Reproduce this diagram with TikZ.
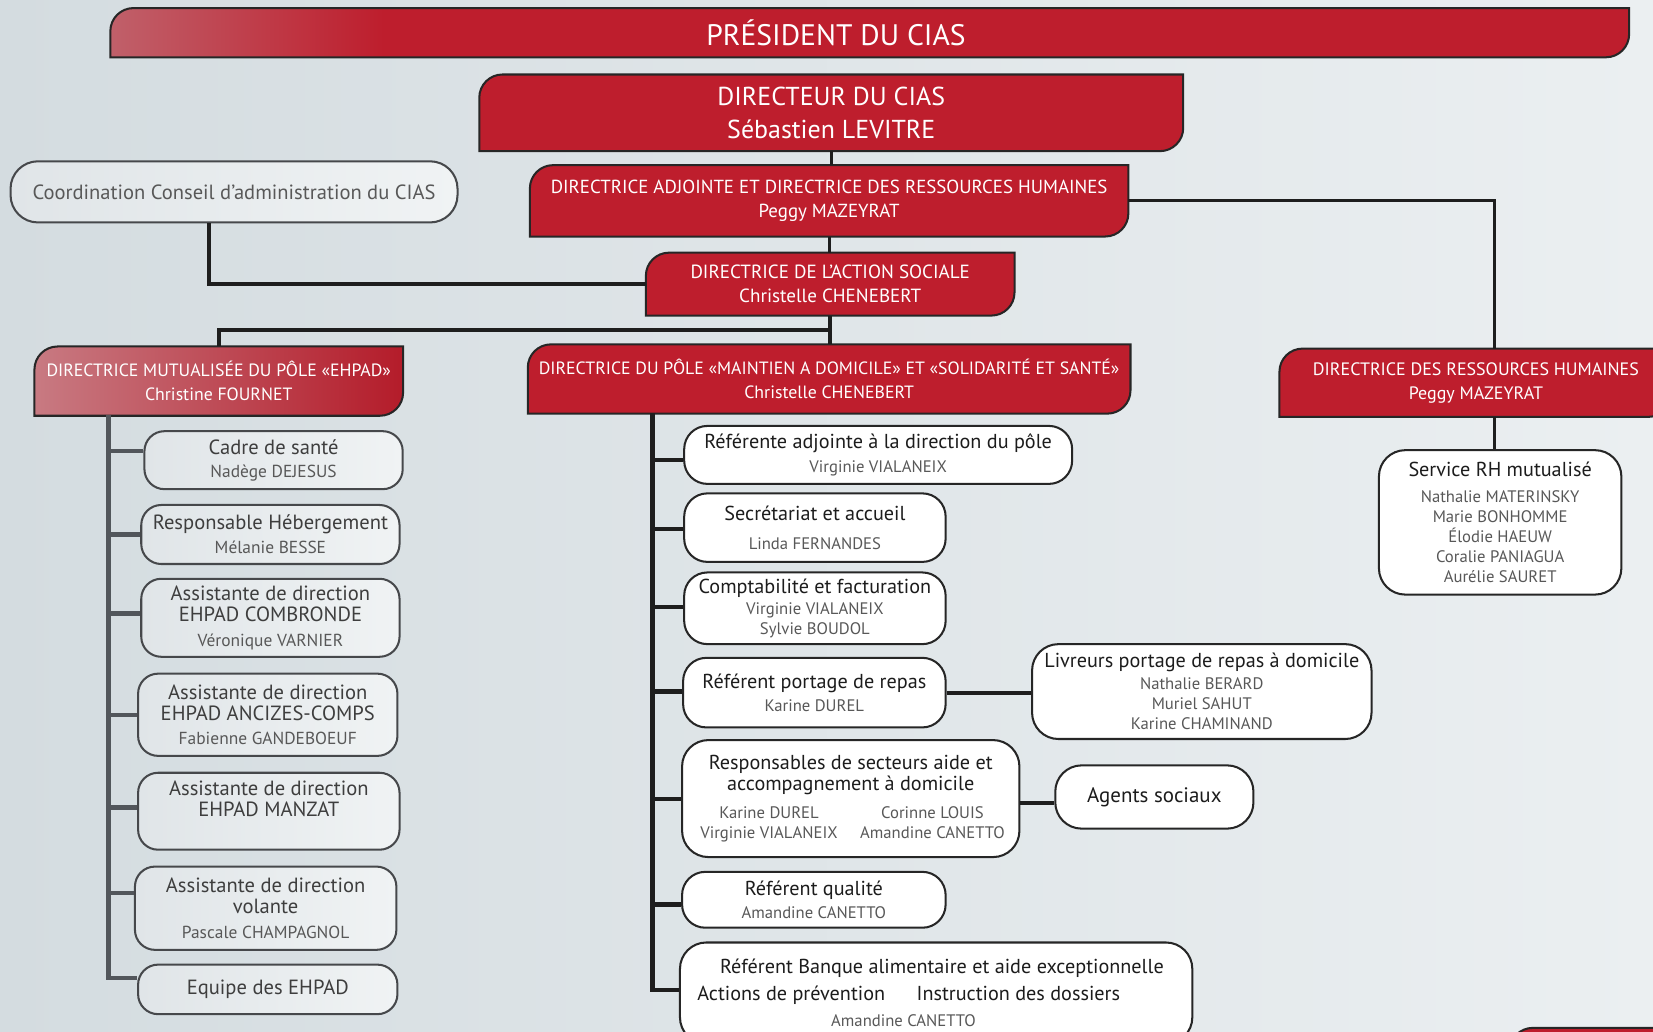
\documentclass[tikz,border=0pt]{standalone}
\usepackage{fontspec}
\setmainfont{PT Sans}
\usepackage{tikz}
\usetikzlibrary{calc, backgrounds}
\definecolor{ciasRed}{RGB}{190,30,45}
\definecolor{ciasPink}{RGB}{192,96,106}
\definecolor{ehpadPink}{RGB}{200,122,130}
\definecolor{ehpadRed}{RGB}{180,28,42}
\definecolor{bgLeft}{RGB}{212,220,224}
\definecolor{bgRight}{RGB}{235,239,241}
\definecolor{edgeDark}{RGB}{38,38,38}
\definecolor{edgeGray}{RGB}{70,72,75}
\definecolor{lineDark}{RGB}{30,30,30}
\definecolor{lineGray}{RGB}{82,86,91}
\definecolor{boxGrayA}{RGB}{224,229,232}
\definecolor{boxGrayB}{RGB}{240,243,244}
\definecolor{inkDark}{RGB}{28,28,28}
\definecolor{inkGray}{RGB}{88,88,88}
\newlength\pxl
\setlength\pxl{0.02cm}
\newlength\tabr
\setlength\tabr{22\pxl}
\newcommand\nm{\fontsize{9}{10.8}\selectfont\color{inkGray}}
\newcommand\nml{\fontsize{9.4}{11.4}\selectfont\color{inkGray}}
\newcommand\redsize[1]{\fontsize{#1}{12.8}\selectfont}
\newcommand\tabbox[2][]{\draw[redbox, #1] (#2.south west) -- ([yshift=-\tabr]#2.north west) arc[start angle=180, end angle=90, radius=\tabr] -- (#2.north east) -- ([yshift=\tabr]#2.south east) arc[start angle=0, end angle=-90, radius=\tabr] -- cycle;}
\pgfdeclarehorizontalshading{presshade}{100bp}{color(0bp)=(ciasPink); color(25bp)=(ciasPink); color(34bp)=(ciasRed); color(100bp)=(ciasRed)}
\tikzset{
	wh/.style 2 args={minimum width=#1\pxl, minimum height=#2\pxl},
	redtxt/.style={inner sep=0pt, text=white, align=center, font=\redsize{9.9}},
	redbox/.style={draw=edgeDark, line width=1.1pt, fill=ciasRed},
	whitebox/.style={draw=edgeDark, line width=1.1pt, fill=white, rounded corners=22\pxl, inner sep=0pt, align=center, text=inkDark, font=\fontsize{10.9}{10.8}\selectfont},
	graybox/.style={draw=edgeGray, line width=1.1pt, left color=boxGrayA, right color=boxGrayB, rounded corners=19\pxl, inner sep=0pt, align=center, text=inkDark!85, font=\fontsize{11.1}{11.4}\selectfont},
	mconn/.style={draw=lineDark, line width=2.3pt},
	lconn/.style={draw=lineGray, line width=2.3pt},
	thinconn/.style={draw=lineDark, line width=1.7pt}
}

\begin{document}
\begin{tikzpicture}[x=0.02cm, y=-0.02cm]
	\useasboundingbox (0,0) rectangle (1568,978);
	\begin{scope}[on background layer]
		\clip (0,0) rectangle (1568,978);
		\fill[left color=bgLeft, right color=bgRight] (0,0) rectangle (1568,978);
	\end{scope}

	% red column
	\node[redtxt, wh={1440}{46}, font=\fontsize{16}{18}\selectfont] (pres) at (825,31) {PRÉSIDENT DU CIAS\kern64\pxl};
	\node[redtxt, wh={667}{72}, font=\fontsize{14}{17.6}\selectfont] (dir) at (788.5,107) {DIRECTEUR DU CIAS\\Sébastien LEVITRE};
	\node[redtxt, wh={567}{67}, font=\redsize{10.2}] (da) at (786.5,190.5) {DIRECTRICE ADJOINTE ET DIRECTRICE DES RESSOURCES HUMAINES\\Peggy MAZEYRAT};
	\node[redtxt, wh={349}{59}, font=\redsize{10.3}] (das) at (787.5,269.5) {DIRECTRICE DE L’ACTION SOCIALE\\Christelle CHENEBERT};
	\node[redtxt, wh={571}{65}, font=\redsize{9.6}] (pole) at (786.5,359.5) {DIRECTRICE DU PÔLE «MAINTIEN A DOMICILE» ET «SOLIDARITÉ ET SANTÉ»\\Christelle CHENEBERT};
	\node[redtxt, wh={349}{65}, font=\redsize{9.6}] (ehpad) at (207.5,361.5) {DIRECTRICE MUTUALISÉE DU PÔLE «EHPAD»\\Christine FOURNET};
	\node[redtxt, wh={372}{64}, font=\redsize{9.7}] (drh) at (1400,363) {DIRECTRICE DES RESSOURCES HUMAINES\\Peggy MAZEYRAT};

	\begin{scope}[on background layer]
		\clip (0,0) rectangle (1568,978);
		\tabbox[shade, shading=presshade]{pres}
		\tabbox{dir}
		\tabbox{da}
		\tabbox{das}
		\tabbox{pole}
		\tabbox[left color=ehpadPink, right color=ehpadRed]{ehpad}
		\tabbox{drh}
		\draw[redbox] (1432,1010) -- (1432,997) arc[start angle=180, end angle=90, radius=\tabr] -- (1600,975) -- (1600,1010) -- cycle;
	\end{scope}

	\node[graybox, wh={424}{58}, rounded corners=26\pxl, text=inkGray] (coord) at (222,182) {Coordination Conseil d’administration du CIAS};

	% pole EHPAD
	\node[graybox, wh={245}{55}] (cadre) at (259.5,436.5) {Cadre de santé\\[2\pxl]\nml Nadège DEJESUS};
	\node[graybox, wh={245}{56}] (heberg) at (256.5,507) {Responsable Hébergement\\[3\pxl]\nml Mélanie BESSE};
	\node[graybox, wh={245}{74}] (combr) at (256.5,586) {Assistante de direction\\EHPAD COMBRONDE\\[3\pxl]\nml Véronique VARNIER};
	\node[graybox, wh={246}{78}] (ancizes) at (254,678) {Assistante de direction\\EHPAD ANCIZES-COMPS\\[2\pxl]\nml Fabienne GANDEBOEUF};
	\node[graybox, wh={248}{73}] (manzat) at (255,769.5) {Assistante de direction\\EHPAD MANZAT\\[3\pxl]\nml{}};
	\node[graybox, wh={248}{79}] (volante) at (252,861.5) {Assistante de direction\\volante\\[3\pxl]\nml Pascale CHAMPAGNOL};
	\node[graybox, wh={246}{47}] (equipe) at (254,938.5) {Equipe des EHPAD};

	% pole maintien a domicile
	\node[whitebox, wh={368}{55}] (ref) at (833,431.5) {Référente adjointe à la direction du pôle\\[4\pxl]\nm Virginie VIALANEIX};
	\node[whitebox, wh={248}{65}] (secr) at (773,500.5) {Secrétariat et accueil\\[8\pxl]\nm Linda FERNANDES};
	\node[whitebox, wh={248}{68}] (compta) at (773,577) {Comptabilité et facturation\\[1\pxl]\nm Virginie VIALANEIX\\\nm Sylvie BOUDOL};
	\node[whitebox, wh={249}{66}] (portage) at (772.5,657) {Référent portage de repas\\[3\pxl]\nm Karine DUREL};
	\node[whitebox, wh={322}{90}, rounded corners=25\pxl] (livr) at (1140,656) {Livreurs portage de repas à domicile\\[2\pxl]\nm Nathalie BERARD\\\nm Muriel SAHUT\\\nm Karine CHAMINAND};
	\node[whitebox, wh={320}{111}, rounded corners=25\pxl] (secteurs) at (807,757.5) {Responsables de secteurs aide et\\[1\pxl]accompagnement à domicile\\[8\pxl]\nm\makebox[155\pxl]{Karine DUREL}\makebox[155\pxl]{Corinne LOUIS}\\\nm\makebox[155\pxl]{Virginie VIALANEIX}\makebox[155\pxl]{Amandine CANETTO}};
	\node[whitebox, wh={188}{60}, rounded corners=25\pxl, font=\fontsize{11.3}{12}\selectfont] (agents) at (1095,756) {Agents sociaux};
	\node[whitebox, wh={250}{53}] (qualite) at (772,853.5) {Référent qualité\\[3\pxl]\nm Amandine CANETTO};
	\node[whitebox, wh={486}{96}, rounded corners=25\pxl] (banque) at (888,942) {\kern11\pxl Référent Banque alimentaire et aide exceptionnelle\\[6\pxl]Actions de prévention\kern30\pxl Instruction des dossiers\kern52\pxl\\[6\pxl]\nm Amandine CANETTO\kern62\pxl};

	% service RH
	\node[whitebox, wh={230}{137}, rounded corners=25\pxl] (rh) at (1423,495.5) {Service RH mutualisé\\[6\pxl]\nm Nathalie MATERINSKY\\\nm Marie BONHOMME\\\nm Élodie HAEUW\\\nm Coralie PANIAGUA\\\nm Aurélie SAURET};

	% connectors
	\coordinate (split) at ($(das.south)!0.5!(pole.north)$);
	\coordinate (ltrunk) at (103,394);
	\coordinate (mtrunk) at (619,392);
	\draw[thinconn] (dir.south) -- (dir.south |- da.north);
	\draw[thinconn] (da.south) -- (da.south |- das.north);
	\draw[mconn] (das.south) -- (das.south |- pole.north);
	\draw[mconn] (ehpad.north) |- (split);
	\draw[mconn] ([xshift=-24\pxl]coord.south) |- (das.west);
	\draw[thinconn] (da.east) -| ([xshift=18\pxl]drh.north);
	\draw[thinconn] ([xshift=18\pxl]drh.south) -- ([xshift=18\pxl]drh.south |- rh.north);

	\draw[lconn] (ltrunk) |- ([yshift=10.5\pxl]equipe.west);
	\foreach \bx/\sh in {cadre/8.5, heberg/0, combr/4, ancizes/0, manzat/3.5, volante/14.5}
		\draw[lconn] ([yshift=\sh\pxl]\bx.west) -- ([yshift=\sh\pxl]\bx.west -| ltrunk);

	\draw[mconn] (mtrunk) |- ([yshift=3\pxl]banque.west);
	\foreach \bx/\sh in {ref/-4.5, secr/-1.5, compta/1, portage/1, secteurs/-0.5, qualite/-4.5}
		\draw[mconn] ([yshift=\sh\pxl]\bx.west) -- ([yshift=\sh\pxl]\bx.west -| mtrunk);
	\draw[mconn] (portage.east) -- (portage.east -| livr.west);
	\draw[mconn] ([yshift=-4\pxl]secteurs.east) -- ([yshift=-4\pxl]secteurs.east -| agents.west);

\end{tikzpicture}
\end{document}
